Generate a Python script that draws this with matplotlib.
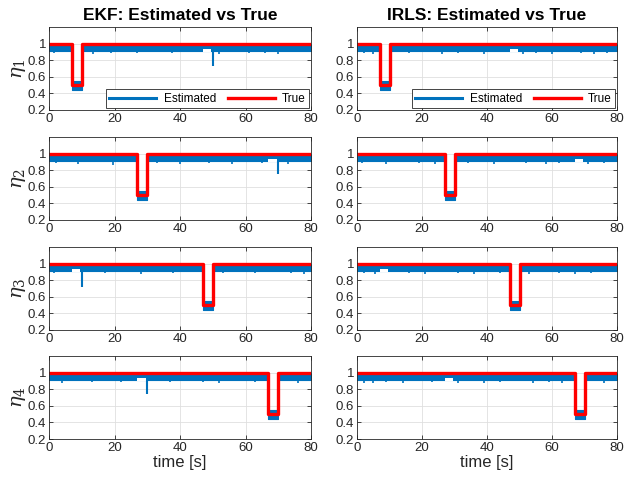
import matplotlib
matplotlib.use("Agg")
import matplotlib.pyplot as plt

plt.rcParams['font.family'] = ['Liberation Sans', 'DejaVu Sans']
plt.rcParams['mathtext.fontset'] = 'dejavuserif'

# fault windows of the true actuator efficiency, one per channel
fault_start = [7, 27, 47, 67]
fault_end = [10, 30, 50, 70]
fault_level = 0.5

# estimated band (upper / lower edge) outside and inside the fault
band_hi = 0.985
band_lo = 0.91
fault_hi = 0.55
fault_lo = 0.44

# small bump of the estimate just before each transient
hump_start = [47, 67, 7, 27]
hump_end = [49.5, 69.5, 9.5, 29.5]
hump_lo = 0.935

# EKF transient spikes
ekf_spike_t = [50, 70, 10, 30]
ekf_spike_v = [0.73, 0.75, 0.72, 0.74]

# downward noise teeth (time, value) per channel
ekf_teeth_t = [
    [1.5, 4, 13.5, 19, 23, 27, 33, 37.5, 43, 52, 55, 61, 66, 70, 75],
    [2, 5, 9, 14, 19.5, 24, 33, 37, 40, 45, 49, 56, 61, 65, 73, 77],
    [1.5, 4.5, 12, 17, 22, 28, 33, 38, 43, 53, 57, 63, 69, 74, 78],
    [1, 4, 8, 13, 18, 22, 32, 37, 42, 47, 52, 58, 63, 73, 76],
]
ekf_teeth_v = [
    [0.89, 0.9, 0.88, 0.89, 0.9, 0.89, 0.9, 0.89, 0.9, 0.88, 0.9, 0.89, 0.89, 0.88, 0.9],
    [0.89, 0.9, 0.88, 0.9, 0.86, 0.9, 0.89, 0.9, 0.88, 0.9, 0.89, 0.87, 0.9, 0.89, 0.88, 0.9],
    [0.89, 0.9, 0.9, 0.89, 0.9, 0.87, 0.9, 0.89, 0.9, 0.89, 0.9, 0.89, 0.9, 0.89, 0.88],
    [0.9, 0.87, 0.9, 0.89, 0.9, 0.89, 0.9, 0.89, 0.9, 0.89, 0.88, 0.9, 0.89, 0.9, 0.87],
]
irls_teeth_t = [
    [2, 5, 12, 16, 21, 26, 31, 35, 39, 44, 51, 55, 60, 64, 69, 73, 77],
    [1.5, 5, 9, 14, 19, 24, 34, 38, 42, 47, 52, 58, 62, 66, 71, 76],
    [2, 5.5, 12, 16, 21, 26, 31, 36, 41, 44, 53, 57, 62, 67, 72, 77],
    [2, 5, 9, 14, 18, 23, 31, 35, 39, 44, 49, 54, 59, 63, 72, 76],
]
irls_teeth_v = [
    [0.89, 0.88, 0.9, 0.89, 0.9, 0.88, 0.89, 0.9, 0.88, 0.9, 0.87, 0.89, 0.88, 0.9, 0.89, 0.87, 0.89],
    [0.89, 0.9, 0.88, 0.9, 0.89, 0.88, 0.89, 0.9, 0.88, 0.9, 0.89, 0.88, 0.89, 0.9, 0.88, 0.89],
    [0.89, 0.88, 0.9, 0.89, 0.88, 0.9, 0.89, 0.88, 0.9, 0.89, 0.88, 0.9, 0.89, 0.88, 0.89, 0.9],
    [0.88, 0.87, 0.89, 0.88, 0.9, 0.89, 0.88, 0.9, 0.88, 0.89, 0.9, 0.88, 0.89, 0.88, 0.9, 0.88],
]

methods = ['EKF', 'IRLS']
ylabels = [r'$\eta_1$', r'$\eta_2$', r'$\eta_3$', r'$\eta_4$']
y_ticks = [0.2, 0.4, 0.6, 0.8, 1.0]
y_ticklabels = ['0.2', '0.4', '0.6', '0.8', '1']
x_ticks = [0, 20, 40, 60, 80]

BLUE = '#0072BD'
RED = '#FF0000'
EDGE = '#262626'

fig = plt.figure(figsize=(6.26, 4.87), dpi=100)

col_left = [49 / 626, 357 / 626]
col_width = [262 / 626, 260 / 626]
row_top = [27, 137, 247, 356]
ax_h = 83 / 487

for col, method in enumerate(methods):
    teeth_t = ekf_teeth_t if method == 'EKF' else irls_teeth_t
    teeth_v = ekf_teeth_v if method == 'EKF' else irls_teeth_v
    for row in range(4):
        bottom = 1 - (row_top[row] + 83) / 487
        ax = fig.add_axes([col_left[col], bottom, col_width[col], ax_h])
        s, e = fault_start[row], fault_end[row]
        h0, h1 = hump_start[row], hump_end[row]

        # estimated band
        segs = [(0, s, band_lo, band_hi), (s, e, fault_lo, fault_hi),
                (e, 80, band_lo, band_hi)]
        for a, b, lo, hi in segs:
            ax.fill_between([a, b], [lo, lo], [hi, hi], color=BLUE, lw=0.8,
                            edgecolor=BLUE)
        ax.fill_between([h0, h1], [band_lo - 0.01, band_lo - 0.01],
                        [hump_lo, hump_lo], color='white', lw=0)
        ax.vlines(teeth_t[row], band_lo, teeth_v[row], color=BLUE, lw=1.2)
        if method == 'EKF':
            ax.vlines([ekf_spike_t[row]], band_lo, [ekf_spike_v[row]],
                      color=BLUE, lw=1.5)
        est_handle, = ax.plot([], [], color=BLUE, lw=2.2)

        # true value
        t_true = [0, s, s, e, e, 80]
        v_true = [1, 1, fault_level, fault_level, 1, 1]
        true_handle, = ax.plot(t_true, v_true, color=RED, lw=2.4)

        ax.set_xlim(0, 80)
        ax.set_ylim(0.2, 1.2)
        ax.set_xticks(x_ticks)
        ax.set_yticks(y_ticks)
        ax.set_yticklabels(y_ticklabels)
        ax.grid(True, color='#DFDFDF', lw=0.6)
        ax.set_axisbelow(True)
        ax.tick_params(direction='in', length=3, width=0.6, colors=EDGE,
                       labelsize=9.5, pad=2, top=True, right=True)
        for sp in ax.spines.values():
            sp.set_color(EDGE)
            sp.set_linewidth(0.6)
        if col == 0:
            ax.set_ylabel(ylabels[row], fontsize=14, color=EDGE, labelpad=0)
        if row == 0:
            ax.set_title(f'{method}: Estimated vs True', fontsize=12.5,
                         fontweight='bold', pad=5)
            leg = ax.legend([est_handle, true_handle], ['Estimated', 'True'],
                            loc='lower right', ncol=2, fontsize=8.5,
                            handlelength=4.0, borderaxespad=0.15,
                            fancybox=False, edgecolor=EDGE, framealpha=1,
                            columnspacing=1.0, handletextpad=0.6,
                            borderpad=0.3)
            leg.get_frame().set_linewidth(0.6)
        if row == 3:
            ax.set_xlabel('time [s]', fontsize=12, color=EDGE, labelpad=1)

fig.savefig('out.png', dpi=100)
